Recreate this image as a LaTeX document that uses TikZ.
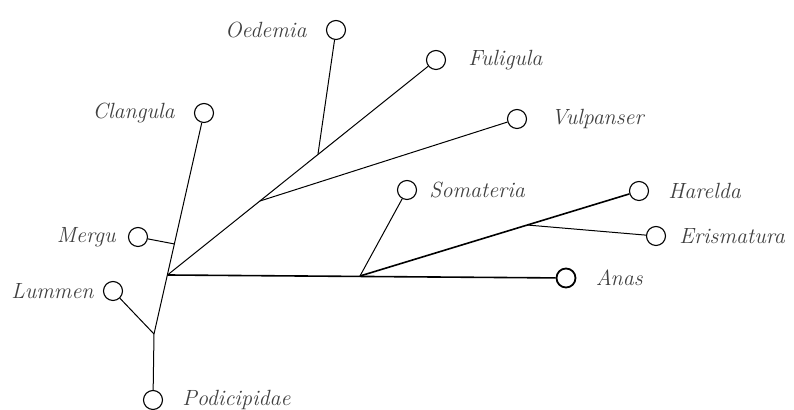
\documentclass[tikz,border=0pt]{standalone}
\usepackage{tikz}
\usetikzlibrary{positioning}
\tikzset{
  taxon/.style={circle, draw, minimum size=9.5pt, inner sep=0pt, line width=0.55pt},
  branch/.style={line width=0.5pt},
  stem/.style={line width=0.8pt},
  every label/.style={font=\fontsize{11}{13}\selectfont\itshape, text=black!75, inner sep=1pt},
  label distance=8.5pt
}
\begin{document}
\begin{tikzpicture}[x=0.5pt,y=-0.5pt]
\useasboundingbox (0,0) rectangle (794,410);
\node[taxon, label={left:Oedemia}] (oed) at (336,30) {};
\node[taxon, label={[label distance=10pt]right:Fuligula}] (ful) at (436,60) {};
\node[taxon, label={[label distance=11pt]right:Vulpanser}] (vul) at (517,119) {};
\node[taxon, label={left:Clangula}] (clang) at (204,113) {};
\node[taxon, label={[label distance=5pt]right:Somateria}] (som) at (407,190) {};
\node[taxon, label={right:Harelda}] (har) at (639,191) {};
\node[taxon, label={[label distance=5.5pt]right:Erismatura}] (eri) at (656,236) {};
\node[taxon, label={[label distance=5pt]left:Mergu}] (merg) at (138,237) {};
\node[taxon, label={[label distance=3.5pt]left:Lummen}] (lum) at (113,291) {};
\node[taxon, line width=0.9pt, label={right:Anas}] (anas) at (566,278) {};
\node[taxon, label={right:Podicipidae}] (podi) at (153,400) {};
\coordinate (root) at (167.5,275);
\coordinate (mergj) at (174.5,244);
\coordinate (lumj) at (154,334);
\coordinate (vulj) at (260,201);
\coordinate (oedj) at (318,154);
\coordinate (somj) at (360,276);
\coordinate (erj) at (527,225);
\draw[branch] (clang) -- (lumj) -- (podi);
\draw[branch] (merg) -- (mergj);
\draw[branch] (lum) -- (lumj);
\draw[branch] (root) -- (ful);
\draw[branch] (oed) -- (oedj);
\draw[branch] (vul) -- (vulj);
\draw[stem] (root) -- (anas);
\draw[branch] (som) -- (somj);
\draw[stem] (somj) -- (har);
\draw[branch] (eri) -- (erj);
\end{tikzpicture}
\end{document}
